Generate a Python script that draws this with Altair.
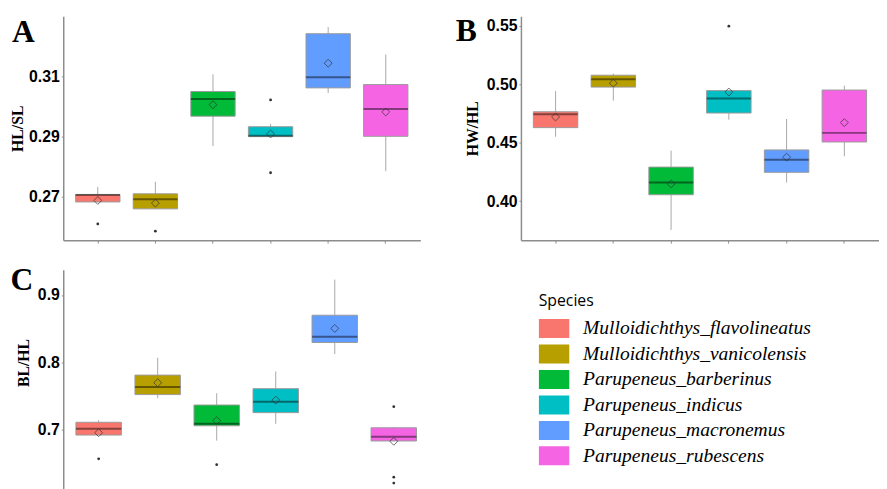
import altair as alt
import pandas as pd

species = ["Mulloidichthys_flavolineatus", "Mulloidichthys_vanicolensis",
           "Parupeneus_barberinus", "Parupeneus_indicus",
           "Parupeneus_macronemus", "Parupeneus_rubescens"]
colors = ["#F8766D", "#B79F00", "#00BA38", "#00BFC4", "#619CFF", "#F564E3"]

# Panel A : HL/SL
a_lo = [0.2683, 0.2660, 0.2869, 0.2900, 0.3045, 0.2785]
a_q1 = [0.2683, 0.2660, 0.2968, 0.2900, 0.3062, 0.2901]
a_med = [0.2706, 0.2692, 0.3025, 0.2903, 0.3097, 0.2992]
a_q3 = [0.2708, 0.2710, 0.3050, 0.2933, 0.3242, 0.3073]
a_hi = [0.2733, 0.2750, 0.3107, 0.2942, 0.3264, 0.3173]
a_mean = [0.2688, 0.2679, 0.3006, 0.2909, 0.3144, 0.2982]
a_out_idx = [0, 1, 3, 3]
a_out_val = [0.2610, 0.2586, 0.3022, 0.2780]

# Panel B : HW/HL
b_lo = [0.4552, 0.4862, 0.3754, 0.4698, 0.4160, 0.4385]
b_q1 = [0.4630, 0.4977, 0.4055, 0.4755, 0.4247, 0.4507]
b_med = [0.4744, 0.5045, 0.4160, 0.4879, 0.4354, 0.4585]
b_q3 = [0.4766, 0.5079, 0.4292, 0.4947, 0.4439, 0.4952]
b_hi = [0.4943, 0.5093, 0.4433, 0.4947, 0.4704, 0.4989]
b_mean = [0.4721, 0.5011, 0.4148, 0.4935, 0.4377, 0.4673]
b_out_idx = [3]
b_out_val = [0.5499]

# Panel C : BL/HL
c_lo = [0.6921, 0.7469, 0.6839, 0.7088, 0.8123, 0.6833]
c_q1 = [0.6921, 0.7522, 0.7059, 0.7254, 0.8295, 0.6833]
c_med = [0.7015, 0.7635, 0.7088, 0.7415, 0.8382, 0.6897]
c_q3 = [0.7111, 0.7811, 0.7367, 0.7610, 0.8700, 0.7029]
c_hi = [0.7141, 0.8070, 0.7542, 0.7865, 0.9228, 0.7040]
c_mean = [0.6956, 0.7698, 0.7136, 0.7440, 0.8504, 0.6828]
c_out_idx = [0, 2, 5, 5, 5]
c_out_val = [0.6569, 0.6481, 0.7342, 0.6296, 0.6208]

AX = "#8c8c8c"


def panel(label, title, lo, q1, med, q3, hi, mean, out_idx, out_val,
          domain, ticks, fmt, width, height, show_x, legend, tick_w,
          title_y=None, label_x=-52, label_y=26, title_pad=6):
    df = pd.DataFrame({"species": species, "lo": lo, "q1": q1, "med": med,
                       "q3": q3, "hi": hi, "mean": mean})
    od = pd.DataFrame({"species": [species[i] for i in out_idx], "value": out_val})
    ld = pd.DataFrame({"label": [label]})

    xaxis = alt.Axis(labels=False, title=None, domainColor=AX, domainWidth=1.5,
                     tickColor=AX, tickSize=3, tickWidth=1, grid=False) if show_x else None
    xenc = alt.X("species:N", sort=species,
                 scale=alt.Scale(domain=species, paddingInner=0, paddingOuter=0.1),
                 axis=xaxis)
    yscale = alt.Scale(domain=domain, nice=False, zero=False)
    yargs = dict(values=ticks, format=fmt, title=title, titleFont="Liberation Serif",
                 titleFontSize=16, titleFontWeight="bold", titleColor="black",
                 titlePadding=title_pad, labelFont="Liberation Sans", labelFontSize=16,
                 labelFontWeight="bold", labelColor="black", labelPadding=2,
                 tickSize=2, tickColor=AX, domainColor=AX, domainWidth=1.5, grid=False)
    if title_y is not None:
        yargs["titleY"] = title_y
    yaxis = alt.Axis(**yargs)

    def Y(f):
        return alt.Y(f, scale=yscale, axis=yaxis)

    base = alt.Chart(df)
    whisk = base.mark_rule(color="#a8a8a8", strokeWidth=1).encode(
        x=xenc, y=Y("lo:Q"), y2="hi:Q")
    box = base.mark_bar(width=alt.RelativeBandSize(0.77), stroke="#9a9a9a",
                        strokeWidth=1).encode(
        x=xenc, y=Y("q1:Q"), y2="q3:Q",
        color=alt.Color("species:N", scale=alt.Scale(domain=species, range=colors),
                        legend=legend))
    median = base.mark_tick(size=tick_w, thickness=2, color="black", opacity=0.45).encode(
        x=xenc, y=Y("med:Q"))
    meanp = base.mark_point(shape="diamond", size=64, filled=False, color="#333333",
                            strokeWidth=1, opacity=0.7).encode(x=xenc, y=Y("mean:Q"))
    outl = alt.Chart(od).mark_circle(size=8, color="#333333", opacity=1).encode(
        x=xenc, y=Y("value:Q"))
    lab = alt.Chart(ld).mark_text(font="Liberation Serif", fontSize=32, fontWeight="bold",
                                  align="left", baseline="alphabetic", color="black").encode(
        text="label:N", x=alt.value(label_x), y=alt.value(label_y))
    return alt.layer(whisk, box, median, meanp, outl, lab).properties(width=width, height=height)


legend = alt.Legend(orient="none", legendX=482, legendY=24, title="Species",
                    titleFont="Open Sans", titleFontSize=16, titleFontWeight="normal",
                    titleColor="black", titlePadding=10,
                    labelFont="Liberation Serif", labelFontStyle="italic", labelFontSize=19.8,
                    labelColor="black", labelLimit=400, labelOffset=14,
                    symbolType="square", symbolSize=961,
                    symbolStrokeWidth=0, symbolOpacity=1, rowPadding=4.8, clipHeight=19)

pA = panel("A", "HL/SL", a_lo, a_q1, a_med, a_q3, a_hi, a_mean, a_out_idx, a_out_val,
           [0.2556, 0.33], [0.27, 0.29, 0.31], ".2f", 362, 227, True, None, 45,
           title_pad=3)
pB = panel("B", "HW/HL", b_lo, b_q1, b_med, b_q3, b_hi, b_mean, b_out_idx, b_out_val,
           [0.3666, 0.5584], [0.40, 0.45, 0.50, 0.55], ".2f", 363, 227, True, None, 45,
           label_x=-66, label_y=25)
pC = panel("C", "BL/HL", c_lo, c_q1, c_med, c_q3, c_hi, c_mean, c_out_idx, c_out_val,
           [0.6051, 0.9375], [0.7, 0.8, 0.9], ".1f", 371, 227, False, legend, 46,
           title_y=94, label_x=-53.5, label_y=21)

top = alt.hconcat(pA, pB, spacing=36)
chart = alt.vconcat(top, pC, spacing=21).resolve_scale(color="independent").properties(
    padding={"left": 1, "top": 4, "right": 0, "bottom": 0}
).configure_view(stroke=None)

chart.save("out.html", embed_options={"renderer": "svg", "actions": False})
